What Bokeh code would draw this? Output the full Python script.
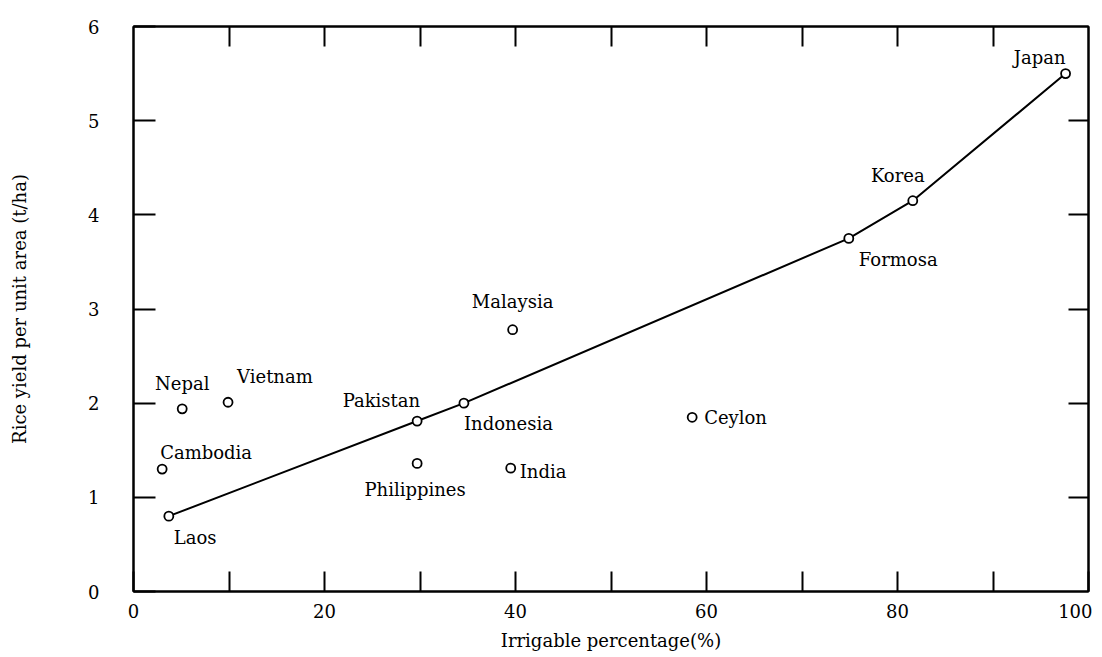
from bokeh.plotting import figure
from bokeh.models import FixedTicker, LinearAxis, Range1d
from bokeh.embed import file_html
from bokeh.resources import INLINE
from bokeh.core.properties import value

# ---- data ----
countries = ["Laos", "Cambodia", "Nepal", "Vietnam", "Pakistan", "Philippines",
             "Indonesia", "Malaysia", "India", "Ceylon", "Formosa", "Korea", "Japan"]
irrigable = [3.7, 3.0, 5.1, 9.9, 29.7, 29.7, 34.6, 39.7, 39.5, 58.5, 74.9, 81.6, 97.6]
rice_yield = [0.80, 1.30, 1.94, 2.01, 1.81, 1.36, 2.00, 2.78, 1.31, 1.85, 3.75, 4.15, 5.50]
trend_countries = ["Laos", "Pakistan", "Indonesia", "Formosa", "Korea", "Japan"]

x_ticks = [0, 20, 40, 60, 80, 100]
x_minor = [10, 30, 50, 70, 90]
y_ticks = [0, 1, 2, 3, 4, 5, 6]

# ---- label placement (screen px offsets, align) ----
label_style = {
    "Laos": (5, 21, "left"),
    "Cambodia": (-2, -17, "left"),
    "Nepal": (0, -25, "center"),
    "Vietnam": (9, -26, "left"),
    "Pakistan": (3, -21, "right"),
    "Philippines": (-2, 26, "center"),
    "Indonesia": (0, 20, "left"),
    "Malaysia": (0, -28, "center"),
    "India": (9, 3, "left"),
    "Ceylon": (12, 0, "left"),
    "Formosa": (10, 21, "left"),
    "Korea": (-15, -25, "center"),
    "Japan": (0, -16, "right"),
}

FONT = "DejaVu Serif"
FS = "18px"

p = figure(frame_width=955, frame_height=565,
           x_range=Range1d(0, 100), y_range=Range1d(0, 6),
           output_backend="svg", toolbar_location=None,
           min_border_left=133, min_border_top=26,
           min_border_right=4, min_border_bottom=4)
p.background_fill_color = "white"
p.border_fill_color = "white"
p.outline_line_color = "black"
p.outline_line_width = 2
p.xgrid.visible = False
p.ygrid.visible = False

# bottom axis
xa = p.xaxis[0]
xa.ticker = FixedTicker(ticks=x_ticks, minor_ticks=x_minor)
xa.axis_label = "Irrigable percentage(%)"
# left axis
ya = p.yaxis[0]
ya.ticker = FixedTicker(ticks=y_ticks)
ya.axis_label = "Rice yield per unit area (t/ha)"

for ax in (xa, ya):
    ax.axis_line_color = "black"
    ax.axis_line_width = 2
    ax.major_tick_line_color = "black"
    ax.major_tick_line_width = 2
    ax.minor_tick_line_color = "black"
    ax.minor_tick_line_width = 2
    ax.major_tick_out = 0
    ax.minor_tick_out = 0
    ax.major_label_text_font = FONT
    ax.major_label_text_font_size = FS
    ax.major_label_text_color = "black"
    ax.axis_label_text_font = FONT
    ax.axis_label_text_font_size = FS
    ax.axis_label_text_font_style = "normal"
    ax.axis_label_text_color = "black"

xa.major_tick_in = 20
xa.minor_tick_in = 20
xa.major_label_standoff = 12
xa.axis_label_standoff = 9
ya.major_tick_in = 22
ya.minor_tick_in = 0
ya.major_label_standoff = 34
ya.axis_label_standoff = 55

# top and right axes: ticks only
top_ticks = x_minor + x_ticks[1:-1]
right_ticks = y_ticks[1:-1]
top = LinearAxis(ticker=FixedTicker(ticks=top_ticks),
                 major_label_overrides={t: "" for t in top_ticks})
right = LinearAxis(ticker=FixedTicker(ticks=right_ticks),
                   major_label_overrides={t: "" for t in right_ticks})
for ax in (top, right):
    ax.axis_line_color = "black"
    ax.axis_line_width = 2
    ax.major_tick_line_color = "black"
    ax.major_tick_line_width = 2
    ax.major_tick_in = 20
    ax.major_tick_out = 0
    ax.minor_tick_in = 0
    ax.minor_tick_out = 0
    ax.major_label_standoff = 0
    ax.major_label_text_font_size = "10px"
p.add_layout(top, "above")
p.add_layout(right, "right")

# trend line
idx = [countries.index(c) for c in trend_countries]
p.line([irrigable[i] for i in idx], [rice_yield[i] for i in idx],
       line_color="black", line_width=2)

# points
p.scatter(irrigable, rice_yield, marker="circle", size=9,
          fill_color="white", line_color="black", line_width=1.8)

# labels
for i, name in enumerate(countries):
    dx, dy, align = label_style[name]
    p.text(x=[irrigable[i]], y=[rice_yield[i]], text=[name],
           x_offset=dx, y_offset=dy, text_align=align, text_baseline="middle",
           text_font=value(FONT), text_font_size=FS, text_color="black")

open("out.html", "w").write(file_html(p, INLINE))
